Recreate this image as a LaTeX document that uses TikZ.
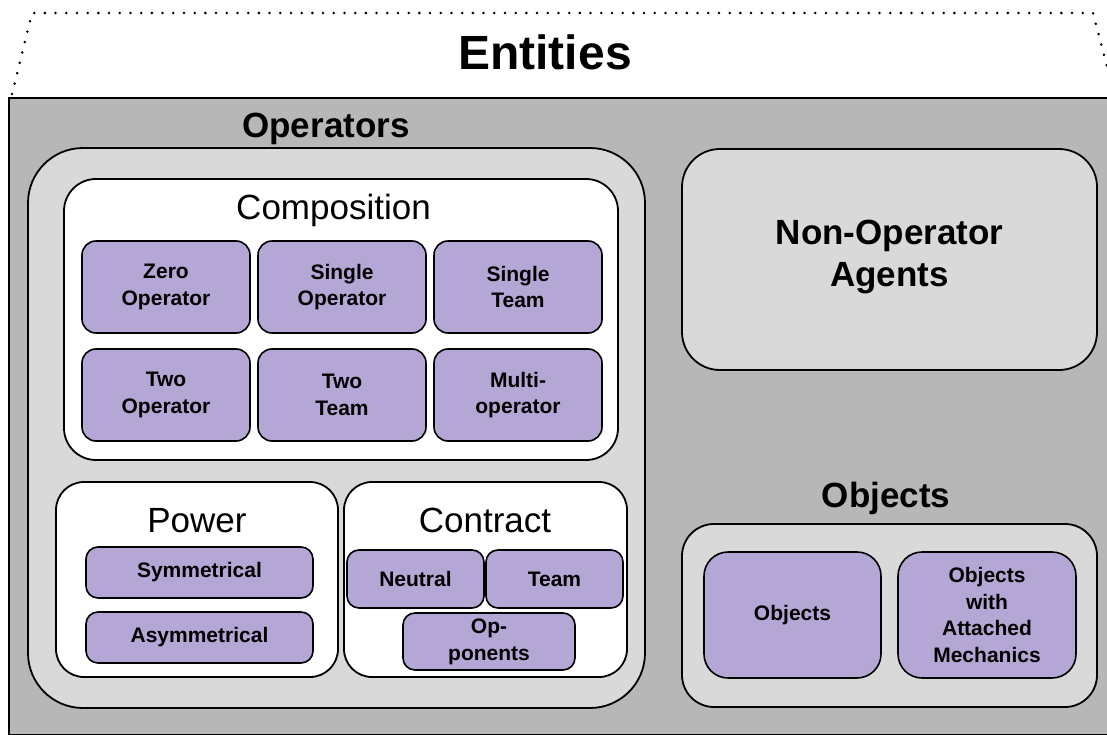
\documentclass[tikz,border=0pt]{standalone}
\usepackage{fontspec}
\setmainfont{Liberation Sans}
\usepackage{tikz}
\usetikzlibrary{positioning}

\definecolor{outergray}{HTML}{B7B7B7}
\definecolor{panelgray}{HTML}{D9D9D9}
\definecolor{tilepurple}{HTML}{B4A7D6}

\tikzset{
  panel/.style={draw, line width=1.8pt, rounded corners=#1, inner sep=0pt, outer sep=0pt},
  panel/.default=30pt,
  tile/.style={draw, line width=1.6pt, fill=tilepurple, rounded corners=14pt,
    align=center, inner sep=0pt, outer sep=0pt,
    minimum width=168pt, minimum height=92pt,
    font=\fontsize{21}{26.7}\selectfont\bfseries},
  heading/.style={anchor=base, inner sep=0pt, font=\fontsize{35}{42}\selectfont}
}

\begin{document}
\begin{tikzpicture}[x=1pt,y=-1pt]
	\useasboundingbox (0,0) rectangle (1107,735);
	\clip (0,0) rectangle (1107,735);
	
	% dotted frame and title
	\draw[line width=2.8pt, line cap=round, dash pattern=on 0pt off 10.7pt] (12,94) -- (32,13) -- (1093,13) -- (1115,97);
	\node[heading, font=\fontsize{48}{56}\selectfont\bfseries] (entities) at (545,70) {Entities};
	\node[draw, line width=2.2pt, fill=outergray, anchor=north west, inner sep=0pt,
	  minimum width=1117pt, minimum height=637pt] (entbox) at (8,97) {};
	
	% operators
	\node[panel=55pt, fill=panelgray, minimum width=617pt, minimum height=560pt] (operators) at (336.5,428) {};
	\node[heading, font=\fontsize{35}{42}\selectfont\bfseries] (operatorslbl) at (326,138) {Operators};
	
	\node[panel=32pt, fill=white, minimum width=554pt, minimum height=281pt] (composition) at (341,319.5) {};
	\node[heading] (compositionlbl) at (333.5,220) {Composition};
	
	\node[tile] (zeroop) at (166,287) {Zero\\Operator};
	\node[tile] (singleop) [right = 8pt of zeroop] {Single\\Operator};
	\node[tile] (singleteam) [right = 8pt of singleop] {Single\\Team};
	\node[tile] (twoop) [below = 16pt of zeroop] {Two\\Operator};
	\node[tile] (twoteam) [right = 8pt of twoop] {Two\\Team};
	\node[tile] (multiop) [right = 8pt of twoteam] {Multi-\\operator};
	
	\node[panel=28pt, fill=white, minimum width=282pt, minimum height=195pt] (power) at (197,579.5) {};
	\node[heading] (powerlbl) at (197,532) {Power};
	\node[tile, rounded corners=12pt, minimum width=227pt, minimum height=51pt] (symm) at (199.5,572.5) {Symmetrical};
	\node[tile, rounded corners=12pt, minimum width=227pt, minimum height=51pt] (asymm) [below = 14pt of symm] {Asymmetrical};
	
	\node[panel=28pt, fill=white, minimum width=283pt, minimum height=195pt] (contract) at (485.5,579.5) {};
	\node[heading] (contractlbl) at (485,532) {Contract};
	\node[tile, rounded corners=12pt, minimum width=137pt, minimum height=58pt] (neutral) at (415.5,579) {Neutral};
	\node[tile, rounded corners=12pt, minimum width=137pt, minimum height=58pt] (team) [right = 2pt of neutral] {Team};
	\node[tile, rounded corners=12pt, minimum width=172pt, minimum height=57pt] (opponents) at (489,641.5) {Op-\\ponents};
	
	% non-operator agents
	\node[panel=38pt, fill=panelgray, minimum width=415pt, minimum height=221pt] (nonop) at (889.5,259.5) {};
	\node[align=center, inner sep=0pt, font=\fontsize{35}{42}\selectfont\bfseries] (nonoplbl) at (889.5,257) {Non-Operator\\Agents};
	
	% objects
	\node[heading, font=\fontsize{35}{42}\selectfont\bfseries] (objectslbl) at (886,507) {Objects};
	\node[panel=32pt, fill=panelgray, minimum width=415pt, minimum height=183pt] (objects) at (889.5,615.5) {};
	\node[tile, rounded corners=24pt, minimum width=177pt, minimum height=126pt] (plainobj) at (792.5,615) {Objects};
	\node[tile, rounded corners=24pt, minimum width=178pt, minimum height=126pt] (mechobj) [right = 17pt of plainobj] {Objects\\with\\Attached\\Mechanics};
\end{tikzpicture}
\end{document}
